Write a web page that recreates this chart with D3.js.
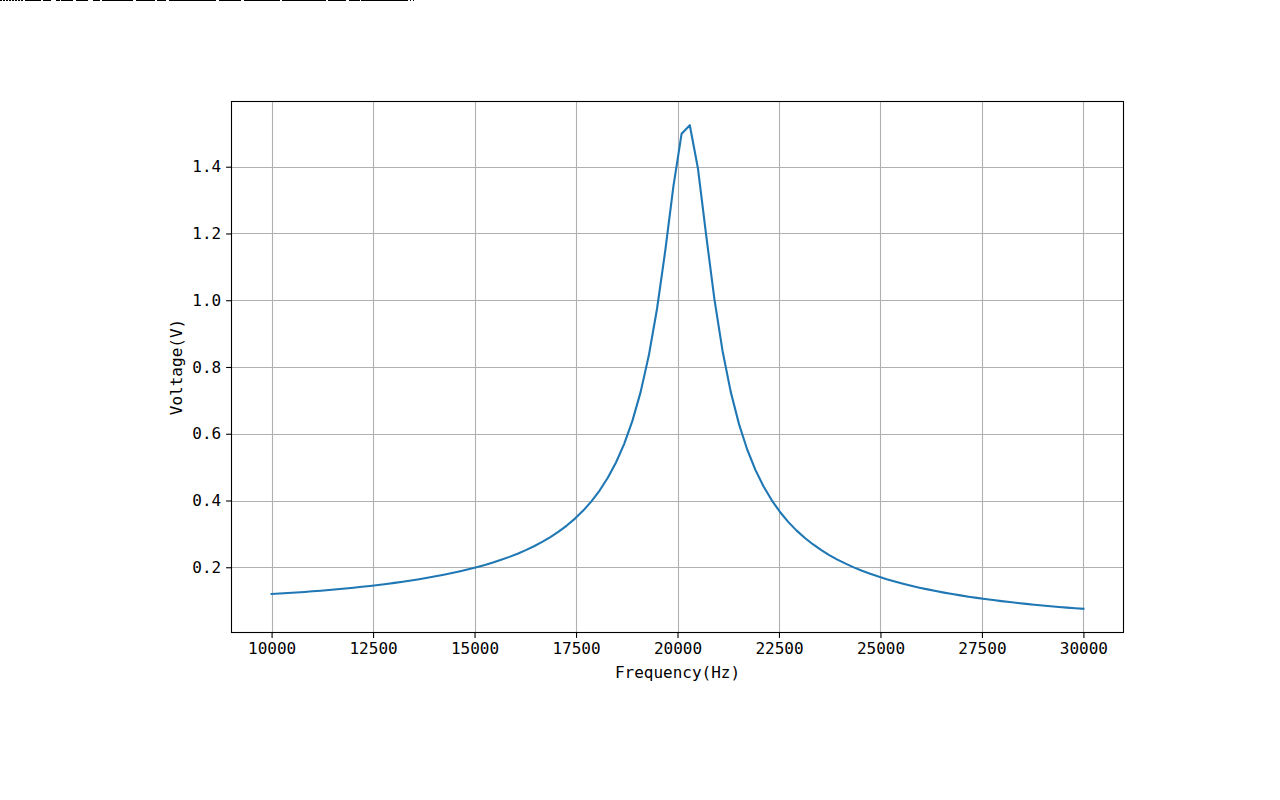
<!DOCTYPE html>
<html>
<head>
<meta charset="utf-8">
<script src="https://cdn.jsdelivr.net/npm/d3@7"></script>
<style>
  html, body { margin: 0; padding: 0; background: #fff; }
  svg { display: block; }
  .tick text, .axis-label { font-family: "DejaVu Sans Mono", "Liberation Mono", monospace; fill: #000; }
</style>
</head>
<body>
<svg id="chart" width="1280" height="800"></svg>
<script>
// Frequencies (Hz), 100 samples from 10000 to 30000
const frequency = [
  10000, 10202.0, 10404.0, 10606.1, 10808.1, 11010.1, 11212.1, 11414.1, 11616.2, 11818.2,
  12020.2, 12222.2, 12424.2, 12626.3, 12828.3, 13030.3, 13232.3, 13434.3, 13636.4, 13838.4,
  14040.4, 14242.4, 14444.4, 14646.5, 14848.5, 15050.5, 15252.5, 15454.5, 15656.6, 15858.6,
  16060.6, 16262.6, 16464.6, 16666.7, 16868.7, 17070.7, 17272.7, 17474.7, 17676.8, 17878.8,
  18080.8, 18282.8, 18484.8, 18686.9, 18888.9, 19090.9, 19292.9, 19494.9, 19697.0, 19899.0,
  20101.0, 20303.0, 20505.1, 20707.1, 20909.1, 21111.1, 21313.1, 21515.2, 21717.2, 21919.2,
  22121.2, 22323.2, 22525.3, 22727.3, 22929.3, 23131.3, 23333.3, 23535.4, 23737.4, 23939.4,
  24141.4, 24343.4, 24545.5, 24747.5, 24949.5, 25151.5, 25353.5, 25555.6, 25757.6, 25959.6,
  26161.6, 26363.6, 26565.7, 26767.7, 26969.7, 27171.7, 27373.7, 27575.8, 27777.8, 27979.8,
  28181.8, 28383.8, 28585.9, 28787.9, 28989.9, 29191.9, 29393.9, 29596.0, 29798.0, 30000
];
// Voltage (V)
const voltage = [
  0.1199, 0.1213, 0.1228, 0.1244, 0.1261, 0.1279, 0.1298, 0.1319, 0.1341, 0.1364,
  0.1388, 0.1414, 0.1441, 0.1470, 0.1500, 0.1533, 0.1567, 0.1604, 0.1642, 0.1684,
  0.1728, 0.1775, 0.1826, 0.1880, 0.1938, 0.2001, 0.2069, 0.2143, 0.2224, 0.2311,
  0.2407, 0.2513, 0.2630, 0.2759, 0.2904, 0.3066, 0.3249, 0.3458, 0.3697, 0.3974,
  0.4298, 0.4680, 0.5139, 0.5697, 0.6385, 0.7247, 0.8342, 0.9737, 1.1470, 1.3412,
  1.4990, 1.5244, 1.3937, 1.1941, 1.0034, 0.8473, 0.7247, 0.6288, 0.5528, 0.4918,
  0.4419, 0.4005, 0.3656, 0.3360, 0.3105, 0.2884, 0.2690, 0.2518, 0.2366, 0.2230,
  0.2108, 0.1997, 0.1896, 0.1805, 0.1721, 0.1644, 0.1573, 0.1507, 0.1446, 0.1389,
  0.1337, 0.1287, 0.1241, 0.1198, 0.1157, 0.1119, 0.1083, 0.1049, 0.1017, 0.0986,
  0.0957, 0.0930, 0.0903, 0.0879, 0.0855, 0.0832, 0.0811, 0.0790, 0.0770, 0.0755
];
const xTicks = [10000, 12500, 15000, 17500, 20000, 22500, 25000, 27500, 30000];
const yTicks = [0.2, 0.4, 0.6, 0.8, 1.0, 1.2, 1.4];
const xLabel = "Frequency(Hz)";
const yLabel = "Voltage(V)";

const svg = d3.select("#chart");
const L = 231, R = 1124, T = 101, B = 633;
const fontSize = 16;

// top-left artifact line
svg.append("line")
  .attr("x1", 0).attr("x2", 415).attr("y1", 0.5).attr("y2", 0.5)
  .attr("stroke", "#000").attr("stroke-width", 1)
  .attr("stroke-dasharray", "2 1 2 1 2 1 2 1 2 1 2 1 2 1 2 2 16 2 8 5 4 1 12 3 12 5 7 2 31 3 19 2 9 3 47 3 22 3 36 2 44 2 18 3 11 1 47");

const xExt = d3.extent(frequency), yExt = d3.extent(voltage);
const xPad = (xExt[1] - xExt[0]) * 0.05, yPad = (yExt[1] - yExt[0]) * 0.05;
const x = d3.scaleLinear().domain([xExt[0] - xPad, xExt[1] + xPad]).range([L, R]);
const y = d3.scaleLinear().domain([yExt[0] - yPad, yExt[1] + yPad]).range([B, T]);

// grid
const grid = svg.append("g");
grid.selectAll(".gx").data(xTicks).join("line")
  .attr("x1", d => Math.round(x(d)) + 0.5).attr("x2", d => Math.round(x(d)) + 0.5)
  .attr("y1", T).attr("y2", B)
  .attr("stroke", "#b0b0b0").attr("stroke-width", 1.1);
grid.selectAll(".gy").data(yTicks).join("line")
  .attr("y1", d => Math.round(y(d)) + 0.5).attr("y2", d => Math.round(y(d)) + 0.5)
  .attr("x1", L).attr("x2", R)
  .attr("stroke", "#b0b0b0").attr("stroke-width", 1.1);

// line
const line = d3.line().x((d, i) => x(frequency[i])).y(d => y(d));
svg.append("path").datum(voltage)
  .attr("d", line)
  .attr("fill", "none")
  .attr("stroke", "#1f77b4")
  .attr("stroke-width", 2.1)
  .attr("stroke-linejoin", "round")
  .attr("stroke-linecap", "square");

// axes
const xAxis = d3.axisBottom(x).tickValues(xTicks).tickFormat(d3.format("d")).tickSize(4.9).tickPadding(4.6);
const yAxis = d3.axisLeft(y).tickValues(yTicks).tickFormat(d3.format(".1f")).tickSize(4.9).tickPadding(4.9);

const gx = svg.append("g").attr("transform", `translate(0,${B})`).call(xAxis);
const gy = svg.append("g").attr("transform", `translate(${L},0)`).call(yAxis);
[gx, gy].forEach(g => {
  g.select(".domain").remove();
  g.selectAll(".tick line").attr("stroke", "#000").attr("stroke-width", 1.1);
  g.selectAll(".tick text").attr("font-size", fontSize).style("font-family", '"DejaVu Sans Mono", monospace');
});

// frame
svg.append("rect")
  .attr("x", L + 0.5).attr("y", T + 0.5)
  .attr("width", R - L - 1).attr("height", B - T - 1)
  .attr("fill", "none").attr("stroke", "#000").attr("stroke-width", 1.1);

// labels
svg.append("text").attr("class", "axis-label")
  .attr("x", (L + R) / 2).attr("y", 672)
  .attr("text-anchor", "middle").attr("dominant-baseline", "central")
  .attr("font-size", fontSize)
  .text(xLabel);
svg.append("text").attr("class", "axis-label")
  .attr("transform", `translate(176,${(T + B) / 2}) rotate(-90)`)
  .attr("text-anchor", "middle").attr("dominant-baseline", "central")
  .attr("font-size", fontSize)
  .text(yLabel);
</script>
</body>
</html>
